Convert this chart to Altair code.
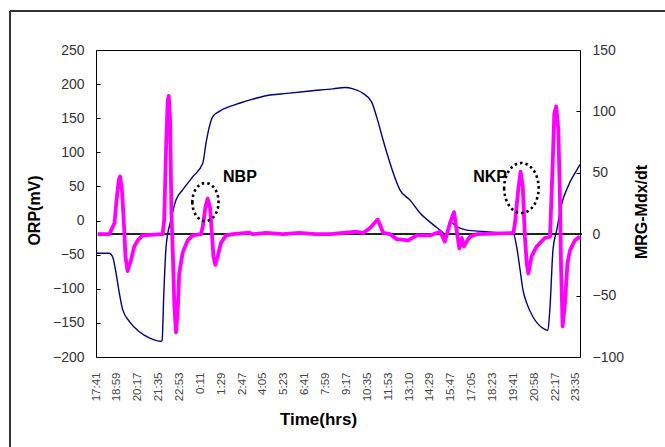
import json
import altair as alt
import pandas as pd

# ---- tick labels (minutes after 17:41) ----
TICK_LABELS = ['17:41', '18:59', '20:17', '21:35', '22:53', '0:11', '1:29', '2:47',
               '4:05', '5:23', '6:41', '7:59', '9:17', '10:35', '11:53', '13:10',
               '14:29', '15:47', '17:05', '18:23', '19:41', '20:58', '22:17', '23:35']
TICK_MIN = [i * 78 for i in range(len(TICK_LABELS))]

# ---- ORP series (left axis) ----
ORP_T = [0, 49, 62, 75, 87, 100, 125, 162, 199, 243,
         247, 253, 262, 280, 299, 324, 361, 399, 411, 424,
         436, 461, 498, 536, 586, 635, 714, 800, 886, 931,
         961, 998, 1030, 1049, 1073, 1099, 1118, 1136, 1174, 1211,
         1260, 1297, 1311, 1323, 1348, 1386, 1446, 1510, 1559, 1572,
         1585, 1596, 1610, 1633, 1671, 1689, 1697, 1708, 1722, 1741,
         1764, 1797, 1809]
ORP_V = [-48, -48, -53, -77, -106, -131, -148, -163, -172, -177,
         -176, -112, -38, 1, 30, 45, 64, 84, 113, 138,
         152, 160, 167, 172, 178, 183, 186.5, 190, 193, 195,
         193, 186.5, 174, 152, 118, 84, 62, 45, 30, 11,
         -6, -18, -24, -2, -9, -14, -16, -18, -18, -38,
         -72, -102, -121, -141, -158, -161, -126, -43, -14, 25,
         50, 74, 82]

# ---- MRG-Mdx/dt series (right axis) ----
MRG_T = [6, 50, 69, 77, 85, 90, 97, 105, 110, 118,
         131, 143, 156, 174, 249, 255, 262, 268, 272, 277,
         282, 287, 293, 299, 305, 311, 324, 343, 361, 392,
         399, 409, 417, 426, 434, 439, 446, 455, 467, 486,
         511, 573, 586, 635, 700, 760, 820, 875, 974, 999,
         1024, 1053, 1074, 1099, 1124, 1167, 1199, 1248, 1286, 1304,
         1323, 1338, 1348, 1358, 1367, 1375, 1388, 1398, 1423, 1560,
         1566, 1578, 1587, 1595, 1603, 1610, 1616, 1628, 1647, 1678,
         1697, 1707, 1713, 1720, 1728, 1734, 1738, 1744, 1753, 1762,
         1772, 1790, 1809]
MRG_V = [0, 0, 9, 28, 44, 47, 36, 6, -18, -30,
         -21, -10, -5, -1, 0, 12, 71, 109, 112.5, 93,
         17, -15, -59, -80, -64, -32, -15, -5, -1, 0,
         6, 22, 29, 22, -2, -18, -25, -18, -7, -1,
         0, 1.3, 0, 1, 0, 1, 0, 0, 2, 1,
         5, 12, 1, 0, -4, -5, -1, -1, 2, -6,
         9, 18, 3, -11.5, -3, -10, -5, -2, 0, 1,
         9, 36, 51, 39, -2, -24, -32, -18, -10, -3,
         -2, 58, 98.5, 104, 85, 30.5, -24, -75, -56, -24,
         -13, -5, -2]

# ---- annotations ----
NOTE_TEXT = ['NBP', 'NKP']
NOTE_T = [538, 1473]
NOTE_V = [46.6, 46.6]
RING_T = [409, 1590]
RING_V = [26.2, 37.6]

orp = pd.DataFrame({'t': ORP_T, 'v': ORP_V})
mrg = pd.DataFrame({'t': MRG_T, 'v': MRG_V})
notes = pd.DataFrame({'t': NOTE_T, 'v': NOTE_V, 'label': NOTE_TEXT})
ring1 = pd.DataFrame({'t': RING_T[:1], 'v': RING_V[:1]})
ring2 = pd.DataFrame({'t': RING_T[1:], 'v': RING_V[1:]})

FONT = 'Liberation Sans'
label_expr = json.dumps(TICK_LABELS) + '[round(datum.value / 78)]'

xscale = alt.Scale(domain=[0, 1809], nice=False, zero=False)
xaxis = alt.Axis(values=TICK_MIN, labelExpr=label_expr, labelAngle=270, ticks=False,
                 domain=False, grid=False, labelFontSize=11.5, labelColor='#444',
                 labelFont=FONT, labelPadding=15, labelFlush=False, labelOverlap=False,
                 labelSeparation=0, labelBound=False,
                 title='Time(hrs)', titleX=222, titleY=62, titleBaseline='middle',
                 titleAlign='center', titleFontSize=17, titleFont=FONT,
                 titleFontWeight='bold', titleColor='#000')


def X():
    return alt.X('t:Q', scale=xscale, axis=xaxis)


left_axis = alt.Axis(values=list(range(-200, 251, 50)), offset=-4, tickSize=4,
                     tickColor='#000', domain=False, grid=False, labelFontSize=14,
                     labelFont=FONT, labelColor='#333', labelPadding=12,
                     title='ORP(mV)', titleX=-65.5, titleY=160, titleAngle=270,
                     titleBaseline='middle', titleAlign='center', titleFontSize=16,
                     titleFont=FONT, titleFontWeight='bold', titleColor='#000')

right_axis = alt.Axis(values=list(range(-100, 151, 50)), orient='right', offset=-4,
                      tickSize=4, tickColor='#000', domain=False, grid=False,
                      labelFontSize=14, labelFont=FONT, labelColor='#333',
                      labelPadding=12, title='MRG-Mdx/dt', titleX=65.5, titleY=161.5,
                      titleAngle=270, titleBaseline='middle', titleAlign='center',
                      titleFontSize=16, titleFont=FONT, titleFontWeight='bold',
                      titleColor='#000')

yl = alt.Scale(domain=[-200, 250], nice=False, zero=False)
yr = alt.Scale(domain=[-100, 150], nice=False, zero=False)

blue = alt.Chart(orp).mark_line(color='#000080', strokeWidth=1.4,
                                interpolate='monotone').encode(
    x=X(),
    y=alt.Y('v:Q', scale=yl, axis=left_axis),
    order='t:Q',
)

pink = alt.Chart(mrg).mark_line(color='#FF00FF', strokeWidth=3.8, strokeJoin='round').encode(
    x=X(),
    y=alt.Y('v:Q', scale=yr, axis=right_axis),
    order='t:Q',
)

zero_rule = alt.Chart(mrg).mark_rule(color='#222', strokeWidth=1.5).encode(
    y=alt.datum(0, scale=yr, axis=right_axis),
    x=alt.value(6),
    x2=alt.value(486),
)

ELLIPSE = 'M -0.69,0 A 0.69,1 0 1 0 0.69,0 A 0.69,1 0 1 0 -0.69,0 Z'
ring_a = alt.Chart(ring1).mark_point(shape=ELLIPSE, filled=False, color='#000',
                                     strokeWidth=2.6, strokeDash=[2.5, 3],
                                     opacity=1).encode(
    x=X(),
    y=alt.Y('v:Q', scale=yr, axis=right_axis),
    size=alt.value(1444),
)
ring_b = alt.Chart(ring2).mark_point(shape=ELLIPSE, filled=False, color='#000',
                                     strokeWidth=2.6, strokeDash=[2.5, 3],
                                     opacity=1).encode(
    x=X(),
    y=alt.Y('v:Q', scale=yr, axis=right_axis),
    size=alt.value(2500),
)

texts = alt.Chart(notes).mark_text(font=FONT, fontSize=16, fontWeight='bold',
                                   color='#000', align='center',
                                   baseline='middle').encode(
    x=X(),
    y=alt.Y('v:Q', scale=yr, axis=right_axis),
    text='label:N',
)

right_layer = alt.layer(zero_rule, pink, ring_a, ring_b, texts)

frame_top = alt.Chart(mrg).mark_rule(color='#333', strokeWidth=1).encode(
    x=alt.value(-86), x2=alt.value(575), y=alt.value(-39))
frame_left = alt.Chart(mrg).mark_rule(color='#333', strokeWidth=1).encode(
    x=alt.value(-86), y=alt.value(-39), y2=alt.value(400))

chart = alt.layer(blue, right_layer, frame_top, frame_left).resolve_scale(
    y='independent'
).properties(
    width=484, height=307,
    autosize=alt.AutoSizeParams(type='none'),
    padding={'left': 96, 'top': 50, 'right': 85, 'bottom': 90},
    background='white',
).configure_view(stroke='#000', strokeWidth=1).configure_axis(
    labelOverlap=False
)

chart.save('out.html', embed_options={'renderer': 'svg', 'actions': False})
